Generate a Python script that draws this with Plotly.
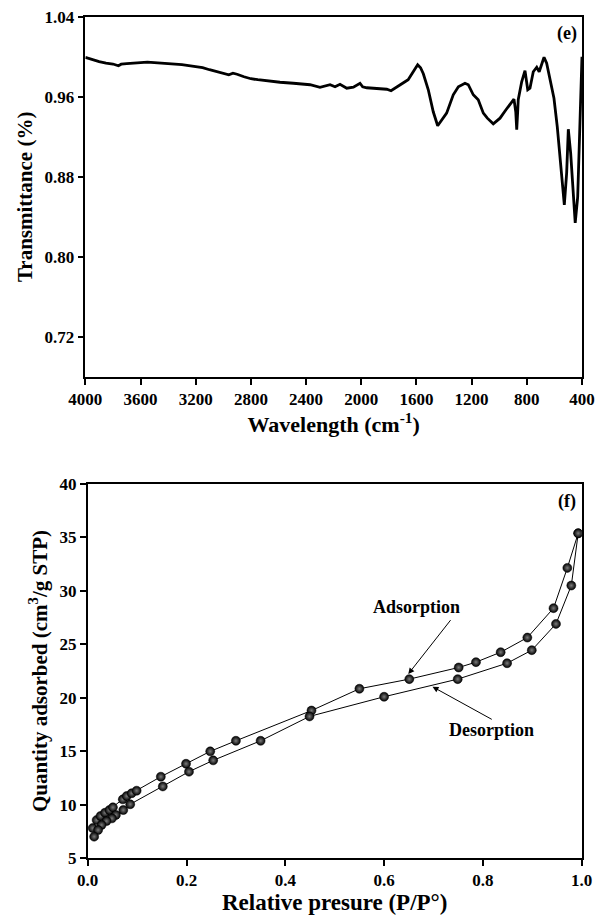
import plotly.graph_objects as go

# ---- FTIR spectrum (panel e) ----
ir_wavenumber = [4000, 3950, 3900, 3850, 3800, 3760, 3740, 3700, 3650, 3600, 3550, 3500, 3450, 3400,
                 3300, 3200, 3150, 3100, 3050, 3000, 2960, 2930, 2900, 2850, 2800, 2750, 2700, 2650,
                 2589, 2492, 2430, 2371, 2299, 2260, 2226, 2190, 2154, 2105, 2057, 2009, 1990, 1960,
                 1888, 1815, 1784, 1743, 1719, 1683, 1660, 1630, 1591, 1570, 1550, 1514, 1478, 1446,
                 1417, 1381, 1333, 1296, 1248, 1224, 1188, 1152, 1115, 1086, 1043, 994, 951, 922,
                 893, 880, 873, 866, 862, 837, 813, 793, 777, 753, 728, 710, 692, 675, 656, 632,
                 603, 579, 554, 528, 511, 499, 482, 463, 449, 431, 414, 402, 400]
ir_transmittance = [0.9993, 0.997, 0.995, 0.9935, 0.9927, 0.991, 0.9925, 0.993, 0.9935, 0.994, 0.9945,
                    0.994, 0.9935, 0.993, 0.992, 0.990, 0.989, 0.987, 0.985, 0.983, 0.982, 0.9835,
                    0.9825, 0.980, 0.978, 0.977, 0.976, 0.975, 0.9745, 0.9735, 0.973, 0.972, 0.9695,
                    0.971, 0.972, 0.970, 0.9725, 0.9685, 0.9695, 0.9735, 0.970, 0.969, 0.968, 0.9675,
                    0.966, 0.970, 0.972, 0.975, 0.977, 0.983, 0.992, 0.989, 0.983, 0.967, 0.945, 0.931,
                    0.937, 0.9436, 0.962, 0.970, 0.9735, 0.972, 0.962, 0.957, 0.9436, 0.9386, 0.933,
                    0.9386, 0.947, 0.952, 0.9576, 0.945, 0.927, 0.945, 0.957, 0.975, 0.986, 0.967,
                    0.9685, 0.985, 0.9895, 0.985, 0.992, 0.9995, 0.9935, 0.977, 0.9585, 0.930, 0.890,
                    0.852, 0.884, 0.9276, 0.9037, 0.864, 0.834, 0.860, 0.9336, 0.9985, 1.0]
ir_x_ticks = [4000, 3600, 3200, 2800, 2400, 2000, 1600, 1200, 800, 400]
ir_y_ticks = [0.72, 0.80, 0.88, 0.96, 1.04]

# ---- N2 isotherm (panel f) ----
ads_p = [0.010, 0.018, 0.026, 0.035, 0.044, 0.051, 0.071, 0.079, 0.089, 0.099, 0.148, 0.199,
         0.248, 0.300, 0.453, 0.550, 0.651, 0.751, 0.786, 0.836, 0.890, 0.943, 0.971, 0.993]
ads_q = [7.8, 8.55, 8.93, 9.24, 9.49, 9.74, 10.49, 10.80, 11.06, 11.30, 12.61, 13.82,
         14.98, 15.97, 18.8, 20.84, 21.74, 22.83, 23.33, 24.26, 25.63, 28.38, 32.15, 35.39]
des_p = [0.993, 0.979, 0.948, 0.899, 0.849, 0.749, 0.600, 0.449, 0.350, 0.254, 0.205, 0.152,
         0.086, 0.072, 0.057, 0.049, 0.038, 0.028, 0.021, 0.013]
des_q = [35.39, 30.5, 26.91, 24.45, 23.23, 21.74, 20.09, 18.25, 15.97, 14.14, 13.08, 11.7,
         10.03, 9.49, 9.03, 8.71, 8.46, 8.09, 7.62, 7.0]
bet_x_ticks = [0.0, 0.2, 0.4, 0.6, 0.8, 1.0]
bet_y_ticks = [5, 10, 15, 20, 25, 30, 35, 40]

FONT = "Liberation Serif, Times New Roman, serif"

fig = go.Figure()
fig.add_trace(go.Scatter(x=ir_wavenumber, y=ir_transmittance, mode="lines",
                         line=dict(color="black", width=2.8), xaxis="x", yaxis="y",
                         showlegend=False))

sphere = dict(size=9, color="black", line=dict(color="black", width=0.5),
              gradient=dict(type="radial", color="#7c7c7c"))
for px, qy in ((ads_p, ads_q), (des_p, des_q)):
    fig.add_trace(go.Scatter(x=px, y=qy, mode="lines+markers",
                             line=dict(color="black", width=1), marker=sphere,
                             xaxis="x2", yaxis="y2", showlegend=False))


def bold_ticks(vals, fmt):
    return [f"<b>{fmt.format(v)}</b>" for v in vals]


axis_common = dict(showline=True, linecolor="black", linewidth=1.5, mirror=True,
                   ticks="outside", ticklen=6, tickwidth=1.5, tickcolor="black",
                   showgrid=False, zeroline=False, automargin=False,
                   tickfont=dict(family=FONT, size=17, color="black"))


def title_font(s):
    return dict(family=FONT, size=s, color="black")


fig.update_layout(
    width=598, height=916,
    margin=dict(l=0, r=0, t=0, b=0),
    paper_bgcolor="white", plot_bgcolor="white",
    font=dict(family=FONT, color="black"),
    xaxis=dict(domain=[0.1427, 0.9732], anchor="y", range=[4000, 400],
               tickmode="array", tickvals=ir_x_ticks, ticktext=bold_ticks(ir_x_ticks, "{:d}"),
               title=dict(text="<b>Wavelength (cm<sup>-1</sup>)</b>", standoff=2,
                          font=title_font(22)),
               **axis_common),
    yaxis=dict(domain=[0.5884, 0.9818], anchor="x", range=[0.68, 1.04],
               tickmode="array", tickvals=ir_y_ticks, ticktext=bold_ticks(ir_y_ticks, "{:.2f}"),
               title=dict(text="<b>Transmittance (%)</b>", standoff=6,
                          font=title_font(21)),
               **axis_common),
    xaxis2=dict(domain=[0.1467, 0.9727], anchor="y2", range=[0, 1],
                tickmode="array", tickvals=bet_x_ticks, ticktext=bold_ticks(bet_x_ticks, "{:.1f}"),
                title=dict(text="<b>Relative presure (P/P°)</b>", standoff=0,
                           font=title_font(23)),
                **axis_common),
    yaxis2=dict(domain=[0.0633, 0.4716], anchor="x2", range=[5, 40],
                tickmode="array", tickvals=bet_y_ticks, ticktext=bold_ticks(bet_y_ticks, "{:d}"),
                title=dict(text="<b>Quantity adsorbed (cm<sup>3</sup>/g STP)</b>", standoff=6,
                           font=title_font(21)),
                **axis_common),
)

label_font = dict(family=FONT, size=18, color="black")
fig.add_annotation(text="<b>(e)</b>", xref="x domain", yref="y domain", x=0.969, y=0.954,
                   xanchor="center", yanchor="middle", showarrow=False, font=label_font)
fig.add_annotation(text="<b>(f)</b>", xref="x2 domain", yref="y2 domain", x=0.9696, y=0.9527,
                   xanchor="center", yanchor="middle", showarrow=False, font=label_font)

fig.add_annotation(text="<b>Adsorption</b>", xref="x2", yref="y2", x=0.666, y=28.52,
                   xanchor="center", yanchor="middle", showarrow=False, font=label_font)
fig.add_annotation(text="", xref="x2", yref="y2", x=0.649, y=22.22,
                   axref="x2", ayref="y2", ax=0.737, ay=27.4,
                   showarrow=True, arrowhead=2, arrowsize=1.2, arrowwidth=1, arrowcolor="black")
fig.add_annotation(text="<b>Desorption</b>", xref="x2", yref="y2", x=0.818, y=16.98,
                   xanchor="center", yanchor="middle", showarrow=False, font=label_font)
fig.add_annotation(text="", xref="x2", yref="y2", x=0.698, y=21.03,
                   axref="x2", ayref="y2", ax=0.821, ay=17.9,
                   showarrow=True, arrowhead=2, arrowsize=1.2, arrowwidth=1, arrowcolor="black")

fig.write_html("out.html", config={"displayModeBar": False},
               post_script="document.body.style.margin='0';document.body.style.overflow='hidden';")
